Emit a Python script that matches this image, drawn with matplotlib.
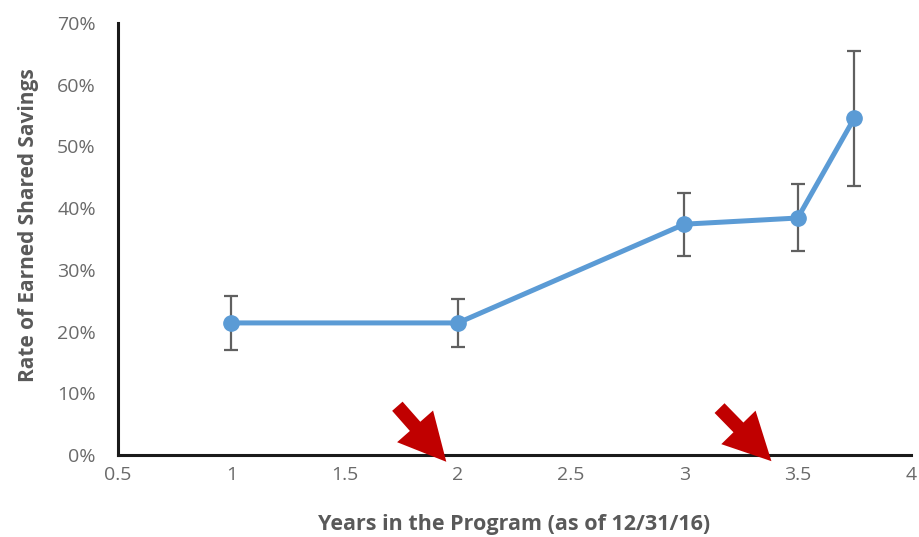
import matplotlib
matplotlib.use("Agg")
import matplotlib.pyplot as plt
from matplotlib.ticker import PercentFormatter

# Data
years = [1, 2, 3, 3.5, 3.75]
rate = [0.214, 0.214, 0.374, 0.384, 0.546]
err_low = [0.170, 0.175, 0.323, 0.331, 0.436]
err_high = [0.258, 0.253, 0.425, 0.439, 0.655]
x_ticks = [0.5, 1, 1.5, 2, 2.5, 3, 3.5, 4]
x_tick_labels = ["0.5", "1", "1.5", "2", "2.5", "3", "3.5", "4"]
y_ticks = [0, 0.1, 0.2, 0.3, 0.4, 0.5, 0.6, 0.7]
# Arrow annotations: (tail_x, tail_y, tip_x, tip_y)
arrows = [(1.733, 0.079, 1.949, -0.011), (3.155, 0.076, 3.384, -0.010)]

plt.rcParams['font.family'] = ['Open Sans', 'DejaVu Sans']
grey = '#595959'

fig = plt.figure(figsize=(9.19, 5.37), dpi=100)
ax = fig.add_axes([0.1284, 0.1527, 0.8629, 0.8045])

yerr = [[r - lo for r, lo in zip(rate, err_low)], [hi - r for r, hi in zip(rate, err_high)]]
ax.errorbar(years, rate, yerr=yerr, fmt='none', ecolor='#606060', elinewidth=1.6,
            capsize=4.8, capthick=1.6, zorder=2)
ax.plot(years, rate, color='#5B9BD5', lw=3.6, marker='o', ms=11, zorder=3)

ax.set_xlim(0.5, 4)
ax.set_ylim(0, 0.7)
ax.set_xticks(x_ticks)
ax.set_xticklabels(x_tick_labels)
ax.set_yticks(y_ticks)
ax.yaxis.set_major_formatter(PercentFormatter(1, decimals=0))

for s in ['top', 'right']:
    ax.spines[s].set_visible(False)
for s in ['left', 'bottom']:
    ax.spines[s].set_color('#1a1a1a')
    ax.spines[s].set_linewidth(2.2)

ax.tick_params(axis='both', length=0, labelsize=14, labelcolor='#6a6a6a')
ax.tick_params(axis='x', pad=8)
ax.tick_params(axis='y', pad=16)

ax.set_xlabel('Years in the Program (as of 12/31/16)', fontsize=15.5, fontweight='bold',
              color=grey)
ax.set_ylabel('Rate of Earned Shared Savings', fontsize=15, fontweight='bold',
              color=grey)
ax.xaxis.set_label_coords(0.5, -0.162)
ax.xaxis.label.set_va('center')
ax.yaxis.set_label_coords(-0.1125, 0.532)
ax.yaxis.label.set_va('center')

for tx, ty, hx, hy in arrows:
    ax.annotate('', xy=(hx, hy), xytext=(tx, ty), annotation_clip=False,
                arrowprops=dict(arrowstyle='simple,head_length=3.4,head_width=3.45,tail_width=1.0',
                                color='#C00000', mutation_scale=10, shrinkA=0, shrinkB=0, lw=0),
                zorder=5)

fig.savefig('out.png', dpi=100)
